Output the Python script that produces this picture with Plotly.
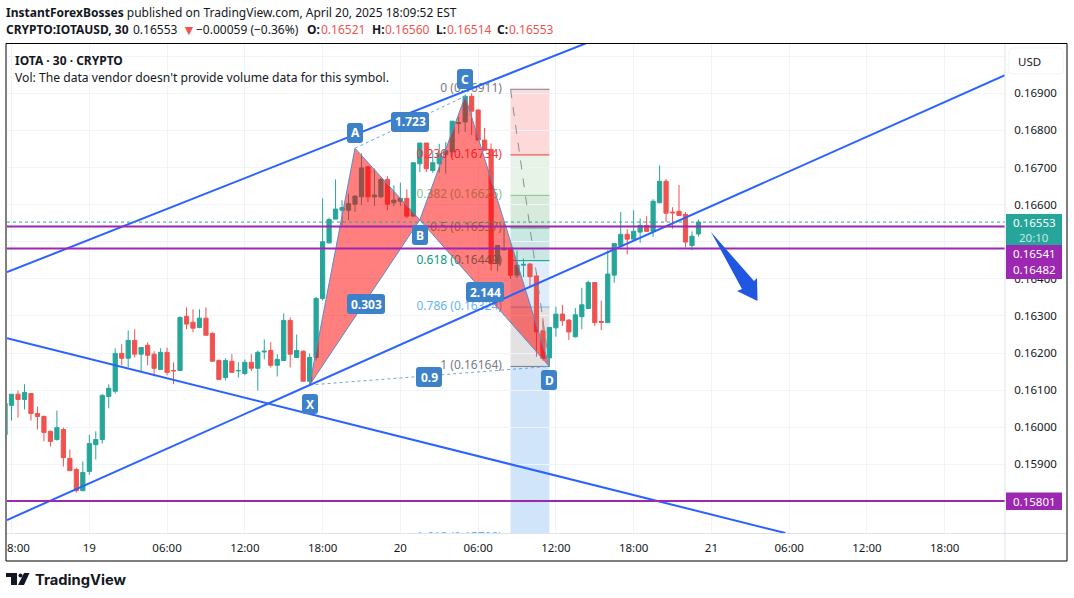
import pandas as pd
import plotly.graph_objects as go

W, H = 1074, 598
# pane edges in page pixels
PANE_L, PANE_R, PANE_T, PANE_B = 7, 1005, 44, 533
FONT = 'Noto Sans'
INK = '#131722'
UP, DOWN = '#26a69a', '#ef5350'
PURPLE = '#9c27b0'
BLUE = '#2962ff'
LABEL_BLUE = '#3d82c8'

first_bar = '2025-04-18 17:30'
opens = [.15980, .16059, .16089, .16075, .16091, .16037, .16029, .15989, .15967, .15994, .15916, .15886, .15829,
         .15881, .15953, .15967, .16083, .16097, .16199, .16186, .16234, .16197, .16221, .16197, .16156, .16202,
         .16153, .16153, .16299, .16283, .16269, .16294, .16253, .16180, .16134, .16178, .16152, .16145, .16175,
         .16159, .16203, .16207, .16167, .16180, .16288, .16188, .16205, .16124, .16188, .16347, .16497, .16561,
         .16585, .16585, .16601, .16621, .16702, .16621, .16621, .16668, .16605, .16609, .16617, .16569, .16710,
         .16766, .16692, .16710, .16735, .16742, .16819, .16823, .16892, .16855, .16774, .16749, .16441, .16478,
         .16481, .16410, .16437, .16440, .16408, .16260, .16187, .16268, .16305, .16289, .16244, .16298, .16320,
         .16390, .16285, .16282, .16410, .16490, .16520, .16507, .16526, .16544, .16528, .16605, .16663, .16580,
         .16582, .16574, .16490, .16521]
highs = [.16064, .16089, .16099, .16116, .16091, .16056, .16032, .15991, .16045, .15999, .15940, .15891, .15908,
         .15980, .15989, .16089, .16116, .16213, .16224, .16261, .16264, .16215, .16229, .16205, .16213, .16215,
         .16175, .16299, .16323, .16318, .16318, .16323, .16256, .16183, .16186, .16197, .16175, .16183, .16197,
         .16207, .16237, .16229, .16197, .16307, .16296, .16250, .16207, .16199, .16351, .16617, .16565, .16668,
         .16612, .16630, .16626, .16738, .16704, .16697, .16671, .16677, .16652, .16659, .16641, .16713, .16766,
         .16766, .16746, .16764, .16769, .16825, .16837, .16897, .16900, .16857, .16807, .16765, .16490, .16553,
         .16483, .16476, .16455, .16442, .16418, .16294, .16269, .16325, .16330, .16291, .16321, .16376, .16395,
         .16390, .16341, .16477, .16495, .16580, .16534, .16585, .16563, .16569, .16615, .16706, .16669, .16593,
         .16653, .16580, .16528, .16560]
lows = [.15980, .16018, .16026, .16048, .16018, .15994, .15962, .15948, .15964, .15894, .15883, .15824, .15829,
        .15872, .15913, .15956, .16051, .16091, .16167, .16161, .16188, .16151, .16167, .16137, .16156, .16140,
        .16116, .16151, .16264, .16256, .16267, .16248, .16178, .16129, .16126, .16148, .16134, .16140, .16151,
        .16099, .16183, .16161, .16137, .16180, .16161, .16188, .16124, .16113, .16180, .16342, .16495, .16561,
        .16545, .16558, .16580, .16599, .16607, .16596, .16617, .16585, .16596, .16596, .16564, .16569, .16688,
        .16688, .16686, .16686, .16684, .16729, .16791, .16796, .16787, .16774, .16747, .16422, .16420, .16478,
        .16400, .16402, .16405, .16379, .16190, .16179, .16164, .16244, .16273, .16235, .16242, .16264, .16318,
        .16273, .16262, .16282, .16389, .16490, .16466, .16507, .16497, .16528, .16513, .16605, .16553, .16535,
        .16571, .16485, .16477, .16514]
closes = [.16064, .16089, .16075, .16094, .16037, .16029, .15986, .15962, .15999, .15918, .15883, .15829, .15878,
          .15956, .15967, .16086, .16105, .16199, .16186, .16234, .16197, .16215, .16194, .16159, .16202, .16148,
          .16152, .16296, .16278, .16267, .16294, .16248, .16178, .16129, .16180, .16148, .16153, .16175, .16159,
          .16202, .16205, .16167, .16183, .16288, .16197, .16207, .16124, .16188, .16347, .16500, .16560, .16588,
          .16592, .16603, .16623, .16699, .16621, .16626, .16668, .16601, .16612, .16617, .16569, .16713, .16766,
          .16697, .16713, .16737, .16745, .16825, .16821, .16892, .16852, .16774, .16747, .16441, .16490, .16481,
          .16410, .16437, .16439, .16406, .16257, .16185, .16269, .16305, .16287, .16257, .16303, .16330, .16390,
          .16282, .16283, .16413, .16495, .16520, .16507, .16528, .16544, .16528, .16609, .16663, .16577, .16578,
          .16571, .16499, .16515, .16553]

# pattern points X A B C D
pattern_times = ['2025-04-19 17:00', '2025-04-19 20:30', '2025-04-20 01:30', '2025-04-20 05:00', '2025-04-20 11:30']
pattern_prices = [.16114, .16752, .16559, .16892, .16164]

# trend lines
upper_times = ['2025-04-18 17:39', '2025-04-20 14:24']
upper_prices = [.16418, .17036]
rising_times = ['2025-04-18 17:39', '2025-04-21 22:39']
rising_prices = [.15750, .16949]
falling_times = ['2025-04-18 17:39', '2025-04-21 05:42']
falling_prices = [.16240, .15715]

hline_prices = [.16541, .16482, .15801]
last_price = .16553

# fib retracement
fib_start, fib_end = '2025-04-20 08:30', '2025-04-20 11:30'
fib_label_time = '2025-04-20 07:50'
fib_ratios = ['0', '0.236', '0.382', '0.5', '0.618', '0.786', '1', '1.618']
fib_prices = [.16911, .16734, .16625, .16537, .16449, .16324, .16164, .15702]
fib_line_colors = ['#787b86', '#f23645', '#81c784', '#4caf50', '#089981', '#64b5f6', '#787b86', '#64b5f6']
fib_band_colors = ['#fdd9d9', '#e7f3e7', '#d8ebdb', '#c9e8e4', '#dfedfb', '#e2e2e2', '#d0e5fa']

price_ticks = [.158, .159, .160, .161, .162, .163, .164, .165, .166, .167, .168, .169, .170]
# .158, .165 and .170 sit behind the axis tags and the USD button
price_labels = ['', '0.15900', '0.16000', '0.16100', '0.16200', '0.16300', '0.16400', '', '0.16600', '0.16700',
                '0.16800', '0.16900', '']
time_ticks = ['2025-04-18 18:00', '2025-04-19 00:00', '2025-04-19 06:00', '2025-04-19 12:00', '2025-04-19 18:00',
              '2025-04-20 00:00', '2025-04-20 06:00', '2025-04-20 12:00', '2025-04-20 18:00', '2025-04-21 00:00',
              '2025-04-21 06:00', '2025-04-21 12:00', '2025-04-21 18:00']
time_labels = ['', '19', '06:00', '12:00', '18:00', '20', '06:00', '12:00', '18:00', '21', '06:00', '12:00', '18:00']


def px(x):
    return x / W


def py(y):
    return 1 - y / H


def rounded(x0, y0, x1, y1, r=3):
    path = (f'M {px(x0 + r)} {py(y0)} L {px(x1 - r)} {py(y0)} Q {px(x1)} {py(y0)} {px(x1)} {py(y0 + r)} '
            f'L {px(x1)} {py(y1 - r)} Q {px(x1)} {py(y1)} {px(x1 - r)} {py(y1)} '
            f'L {px(x0 + r)} {py(y1)} Q {px(x0)} {py(y1)} {px(x0)} {py(y1 - r)} '
            f'L {px(x0)} {py(y0 + r)} Q {px(x0)} {py(y0)} {px(x0 + r)} {py(y0)} Z')
    return path


def poly(points):
    return 'M ' + ' L '.join(f'{px(x)} {py(y)}' for x, y in points) + ' Z'


def page_text(x, y, text, size=12, color=INK, anchor='left', font=FONT):
    # annotations keep a small pad, so left aligned text is pulled back by it
    return dict(xref='paper', yref='paper', x=px(x), y=py(y), text=text, showarrow=False, xanchor=anchor,
                xshift=-2 if anchor == 'left' else 0, yanchor='middle', font=dict(family=font, size=size, color=color))


bar_times = pd.date_range(first_bar, periods=len(closes), freq='30min')

fig = go.Figure()

# fib labels sit under the pattern and the candles
fib_texts = [f'{r} ({p:.5f})' for r, p in zip(fib_ratios, fib_prices)]
fig.add_trace(go.Scatter(x=[fib_label_time] * len(fib_prices), y=fib_prices, mode='text', text=fib_texts,
                         textposition='middle left', cliponaxis=True,
                         textfont=dict(family=FONT, size=12, color=fib_line_colors), hoverinfo='skip'))

# XAB and BCD triangles
for idx in ([0, 1, 2, 0], [2, 3, 4, 2]):
    fig.add_trace(go.Scatter(x=[pattern_times[i] for i in idx], y=[pattern_prices[i] for i in idx], mode='lines',
                             fill='toself', fillcolor='rgba(255,0,0,0.5)', line=dict(color='#5b8bc9', width=1)))
# dotted legs
for idx in ([1, 3], [0, 4]):
    fig.add_trace(go.Scatter(x=[pattern_times[i] for i in idx], y=[pattern_prices[i] for i in idx], mode='lines',
                             line=dict(color='#6fa3d8', width=1, dash='dot')))
fig.add_trace(go.Scatter(x=[fib_start, fib_end], y=[fib_prices[0], fib_prices[6]], mode='lines',
                         line=dict(color='#8a8d96', width=1, dash='dash')))

fig.add_trace(go.Candlestick(x=bar_times, open=opens, high=highs, low=lows, close=closes,
                             increasing=dict(line=dict(color=UP, width=1), fillcolor=UP),
                             decreasing=dict(line=dict(color=DOWN, width=1), fillcolor=DOWN),
                             whiskerwidth=0, hoverinfo='skip'))

for xs, ys in ((upper_times, upper_prices), (rising_times, rising_prices), (falling_times, falling_prices)):
    fig.add_trace(go.Scatter(x=xs, y=ys, mode='lines', line=dict(color=BLUE, width=2)))

x_range = ['2025-04-18 17:39', '2025-04-21 22:39']
for p in hline_prices:
    fig.add_trace(go.Scatter(x=x_range, y=[p, p], mode='lines', line=dict(color=PURPLE, width=2)))
fig.add_trace(go.Scatter(x=x_range, y=[last_price, last_price], mode='lines',
                         line=dict(color=UP, width=1, dash='dot')))

shapes = []
# fib bands and level lines
for i, c in enumerate(fib_band_colors):
    shapes.append(dict(type='rect', layer='below', xref='x', yref='y', x0=fib_start, x1=fib_end,
                       y0=fib_prices[i], y1=fib_prices[i + 1], fillcolor=c, line=dict(width=0)))
for p, c in zip(fib_prices, fib_line_colors):
    shapes.append(dict(type='line', layer='below', xref='x', yref='y', x0=fib_start, x1=fib_end, y0=p, y1=p,
                       line=dict(color=c, width=1)))

# arrow
shapes.append(dict(type='path', xref='paper', yref='paper', fillcolor='#2056e0', line=dict(width=0),
                   path=poly([(711, 232), (754, 281), (757, 278), (757.5, 301), (737, 291), (742, 289)])))

# axis separators and the chart frame
shapes.append(dict(type='line', xref='paper', yref='paper', x0=px(1005), x1=px(1005), y0=py(44), y1=py(561),
                   line=dict(color='#e0e3eb', width=1)))
shapes.append(dict(type='line', xref='paper', yref='paper', x0=px(6), x1=px(1067), y0=py(533.5), y1=py(533.5),
                   line=dict(color='#e0e3eb', width=1)))
shapes.append(dict(type='rect', xref='paper', yref='paper', x0=px(6), x1=px(1067), y0=py(561), y1=py(43.5),
                   line=dict(color='black', width=1)))

# USD button
shapes.append(dict(type='path', xref='paper', yref='paper', path=rounded(1009, 48, 1063, 74, 4), fillcolor='white',
                   line=dict(color='#f0f3fa', width=1)))
annotations = [page_text(1029, 61, 'USD', 11.5, anchor='center')]

# first time label is cut off by the frame in the original
annotations.append(page_text(7, 547, '8:00', 11.5))

# price labels on the axis
for y0, y1, c in ((214, 245, UP), (245, 279, PURPLE), (492.5, 510, PURPLE)):
    shapes.append(dict(type='rect', xref='paper', yref='paper', x0=px(1006), x1=px(1062), y0=py(y1), y1=py(y0),
                       fillcolor=c, line=dict(width=0)))
annotations += [
    page_text(1034, 223, f'{last_price:.5f}', 11.5, 'white', 'center'),
    page_text(1034, 237, '20:10', 11.5, '#c4e8e4', 'center'),
    page_text(1034, 254, f'{hline_prices[0]:.5f}', 11.5, 'white', 'center'),
    page_text(1034, 270, f'{hline_prices[1]:.5f}', 11.5, 'white', 'center'),
    page_text(1034, 501, f'{hline_prices[2]:.5f}', 11.5, 'white', 'center'),
]

# pattern tags
tags = [('X', 310, 404, 16), ('A', 355, 133, 16), ('B', 420, 235, 16), ('C', 465, 79, 16), ('D', 549, 380, 16),
        ('1.723', 410, 122, 38), ('0.303', 366, 304, 38), ('0.9', 429, 377, 26), ('2.144', 485, 292, 38)]
for text, cx, cy, w in tags:
    shapes.append(dict(type='path', xref='paper', yref='paper', path=rounded(cx - w / 2, cy - 10, cx + w / 2, cy + 10),
                       fillcolor=LABEL_BLUE, line=dict(width=0)))
    annotations.append(page_text(cx, cy, f'<b>{text}</b>', 12, 'white', 'center'))

# header and legend text, second header line placed piece by piece
header_pieces = [(6, '<b>CRYPTO:IOTAUSD, 30</b>', INK), (133, '0.16553', INK), (182, '▼', DOWN),
                 (196, '−0.00059 (−0.36%)', INK), (307, '<b>O:</b>', INK), (321, '0.16521', DOWN),
                 (372, '<b>H:</b>', INK), (385, '0.16560', DOWN), (436, '<b>L:</b>', INK), (447, '0.16514', DOWN),
                 (497, '<b>C:</b>', INK), (509, '0.16553', DOWN)]
annotations.append(page_text(6, 12.5, '<b>InstantForexBosses</b> published on TradingView.com, April 20, 2025 18:09:52 EST', 12))
for x, text, color in header_pieces:
    annotations.append(page_text(x, 29.5, text, 14 if text == '▼' else 12, color))
annotations += [
    page_text(15, 60, '<b>IOTA · 30 · CRYPTO</b>', 12),
    page_text(15, 77, "Vol: The data vendor doesn't provide volume data for this symbol.", 12.15),
    page_text(35, 580, '<b>TradingView</b>', 14.7, '#131722', font='Inter'),
]

# logo
shapes.append(dict(type='path', xref='paper', yref='paper', fillcolor='#131722', line=dict(width=0),
                   path=poly([(6, 573), (17, 573), (17, 585), (11, 585), (11, 577), (6, 577)])))
shapes.append(dict(type='circle', xref='paper', yref='paper', x0=px(18.5), x1=px(22.5), y0=py(577.5), y1=py(573.5),
                   fillcolor='#131722', line=dict(width=0)))
shapes.append(dict(type='path', xref='paper', yref='paper', fillcolor='#131722', line=dict(width=0),
                   path=poly([(24, 573), (29.5, 573), (24, 585), (18, 585)])))

fig.update_layout(
    width=W, height=H, margin=dict(l=0, r=0, t=0, b=0), autosize=False,
    paper_bgcolor='white', plot_bgcolor='white', showlegend=False, boxgap=0.35, boxgroupgap=0,
    shapes=shapes, annotations=annotations,
    xaxis=dict(domain=[px(PANE_L), px(PANE_R)], type='date', range=x_range, rangeslider=dict(visible=False),
               tickmode='array', tickvals=time_ticks, ticktext=time_labels, showgrid=True, gridcolor='#f0f3fa',
               gridwidth=1, zeroline=False, ticks='outside', ticklen=4, tickcolor='white',
               tickfont=dict(family=FONT, size=11.5, color=INK)),
    yaxis=dict(domain=[py(PANE_B), py(PANE_T)], range=[.15715, .17033], side='right', tickmode='array',
               tickvals=price_ticks, ticktext=price_labels, showgrid=True, gridcolor='#f0f3fa', gridwidth=1,
               zeroline=False, ticks='outside', ticklen=6, tickcolor='white',
               tickfont=dict(family=FONT, size=11.5, color=INK)),
)

# the page's default body margin would push the chart out of the window
fig.write_html("out.html", config={'displayModeBar': False}, post_script="document.body.style.margin='0';")
